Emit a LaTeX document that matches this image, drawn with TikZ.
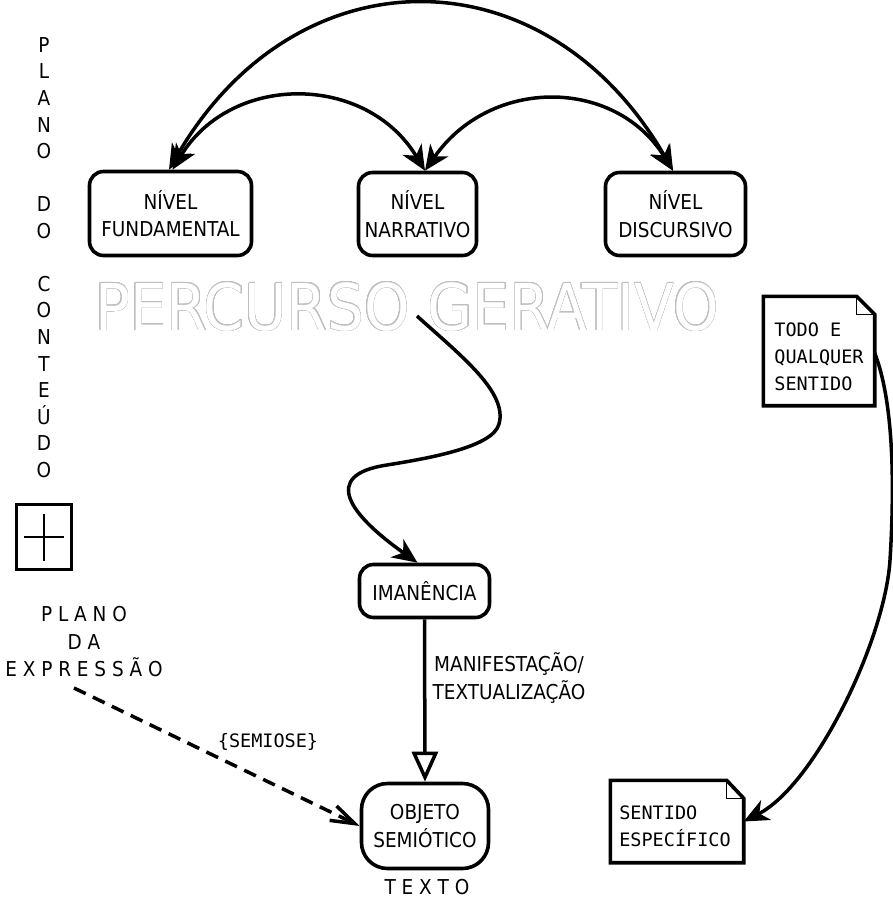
\documentclass[tikz,border=0pt]{standalone}
\usepackage{fontspec}
\setmainfont{DejaVu Sans Condensed}
\newfontfamily\monof{DejaVu Sans Mono}
\usepackage{contour}
\usetikzlibrary{arrows.meta}
\contourlength{0.45pt}
\contournumber{40}
\begin{document}
\begin{tikzpicture}[x=1pt,y=-1pt,
  stk/.tip={Stealth[length=25pt,width=22pt,inset=7.5pt]},
  box/.style={draw,line width=3.6pt,rounded corners=14pt,align=center,inner sep=0pt,
    font=\fontsize{20.5}{27.5}\selectfont},
  conn/.style={line width=3.5pt},
  noteframe/.style={inner sep=0pt},
  notetext/.style={inner sep=0pt,align=left,font=\monof\fontsize{18.5}{27}\selectfont},
  notedraw/.style={line width=3.6pt,line join=miter},
  foldline/.style={line width=1.2pt},
  plain/.style={inner sep=0pt,align=center,font=\fontsize{20.5}{27.5}\selectfont}
]
\useasboundingbox (0,0) rectangle (892,902);

% title
\node[inner sep=0pt,font=\fontsize{64.5}{70}\selectfont] (pg) at (407,307)
  {\contour{gray!50}{\textcolor{white}{PERCURSO GERATIVO}}};

% level boxes
\node[box,minimum width=162,minimum height=84] (fund) at (170.5,213.5) {NÍVEL\\FUNDAMENTAL};
\node[box,minimum width=118,minimum height=83] (narr) at (417.5,214) {NÍVEL\\NARRATIVO};
\node[box,minimum width=140,minimum height=83] (disc) at (675.5,214) {NÍVEL\\DISCURSIVO};
\node[box,minimum width=130,minimum height=53] (iman) at (424.5,591) {IMANÊNCIA};
\node[box,rounded corners=26pt,minimum width=127,minimum height=85] (obj) at (425,826) {OBJETO\\SEMIÓTICO};

% arcs between levels
\draw[conn,{stk}-{stk}] ([xshift=-1.5pt]fund.north) .. controls (296,-50) and (546,-50) .. ([xshift=-2.5pt]disc.north);
\draw[conn,{stk}-{stk}] ([xshift=2pt]fund.north) .. controls (231,73) and (366,73) .. ([xshift=7.5pt]narr.north);
\draw[conn,{stk}-{stk}] ([xshift=7.5pt]narr.north) .. controls (490,77) and (615,77) .. ([xshift=-2.5pt]disc.north);

% S curve
\coordinate (sstart) at (417,316);
\draw[conn,-{stk}] (sstart) .. controls (460,355) and (508,392) .. (499,424)
  .. controls (493,447) and (430,458) .. (387,465)
  .. controls (320,475) and (350,515) .. ([xshift=-7pt]iman.north);

% manifestation
\draw[conn,-{Triangle[open,length=30pt,width=26pt]}] (iman.south) -- (obj.north);
\node[plain] (manif) at (509,678) {MANIFESTAÇÃO/\\TEXTUALIZAÇÃO};

% left texts
\node[inner sep=0pt,align=center,font=\fontsize{20.5}{26.56}\selectfont] (pcont) at (44,257.5)
  {P\\L\\A\\N\\O\\~\\D\\O\\~\\C\\O\\N\\T\\E\\Ú\\D\\O};
\node[draw,line width=3.6pt,minimum width=55,minimum height=65,inner sep=0pt] (plus) at (44,537) {};
\draw[line width=2.8pt] ([xshift=-20pt]plus.center) -- ([xshift=20pt]plus.center);
\draw[line width=2.8pt] ([yshift=-23.5pt]plus.center) -- ([yshift=23.5pt]plus.center);
\node[plain] (pexp) at (84,642) {P L A N O\\D A\\E X P R E S S Ã O};

% semiose
\coordinate (dstart) at (74,688);
\draw[conn,dash pattern=on 13pt off 8pt,-{Straight Barb[length=24pt,width=16pt]}] (dstart) -- (obj.west);
\node[inner sep=0pt,font=\monof\fontsize{18.5}{22}\selectfont] (sem) at (268,742) {\{SEMIOSE\}};

\node[plain] (texto) at (427,887) {T E X T O};

% notes
\node[noteframe,minimum width=111,minimum height=109] (todo) at (819,351) {};
\draw[notedraw] (todo.north west) -- ([xshift=-18pt]todo.north east) -- ([yshift=-18pt]todo.north east) -- (todo.south east) -- (todo.south west) -- cycle;
\draw[foldline] ([xshift=-18pt]todo.north east) |- ([yshift=-18pt]todo.north east);
\node[notetext] (todotxt) at ([yshift=-6pt]todo.center) {TODO E\\QUALQUER\\SENTIDO};

\node[noteframe,minimum width=133,minimum height=82] (sent) at (677,821.5) {};
\draw[notedraw] (sent.north west) -- ([xshift=-17pt]sent.north east) -- ([yshift=-18pt]sent.north east) -- (sent.south east) -- (sent.south west) -- cycle;
\draw[foldline] ([xshift=-17pt]sent.north east) |- ([yshift=-18pt]sent.north east);
\node[notetext] (senttxt) at ([yshift=-5pt,xshift=-2pt]sent.center) {SENTIDO\\ESPECÍFICO};

\draw[conn,-{stk}] ([yshift=-2pt]todo.east) .. controls (893,400) and (895,480) .. (890,560)
  .. controls (885,640) and (815,785) .. (sent.east);
\end{tikzpicture}
\end{document}
